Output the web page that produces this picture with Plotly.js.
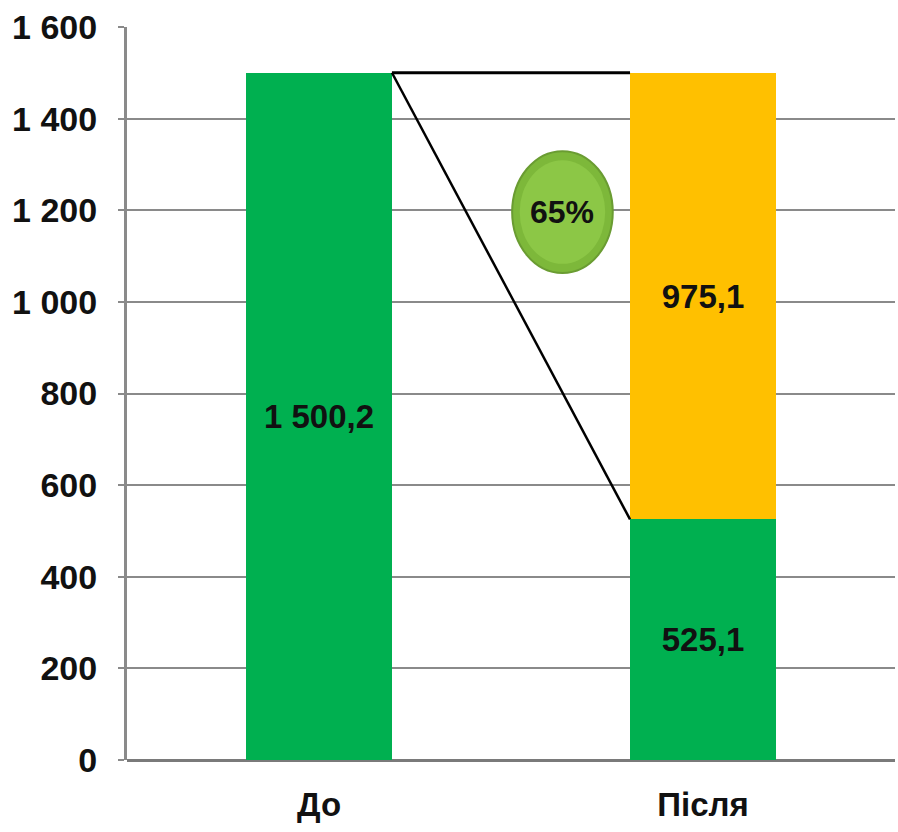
<!DOCTYPE html>
<html>
<head>
<meta charset="utf-8">
<script src="https://cdn.plot.ly/plotly-3.0.1.min.js"></script>
<style>html,body{margin:0;padding:0;background:#fff;}#chart{width:898px;height:832px;}</style>
</head>
<body>
<div id="chart"></div>
<script>
const categories = ['До', 'Після'];
const greenValues = [1500.2, 525.1];
const orangeValues = [0, 975.1];
const greenLabels = ['1 500,2', '525,1'];
const orangeLabels = ['', '975,1'];
const tickVals = [0, 200, 400, 600, 800, 1000, 1200, 1400, 1600];
const tickText = ['0', '200', '400', '600', '800', '1 000', '1 200', '1 400', '1 600'];
const shareLabel = '65%';

const FONT = '"Liberation Sans", Arial, sans-serif';
const bargap = 0.62;
const w = 1 - bargap;
const beforeTop = greenValues[0];
const afterGreen = greenValues[1];
const afterTotal = greenValues[1] + orangeValues[1];

const traces = [
  {
    type: 'bar', x: categories, y: greenValues,
    marker: {color: '#00B050'},
    text: greenLabels, textposition: 'inside', insidetextanchor: 'middle',
    textfont: {family: FONT, size: 33, color: '#111', weight: 'bold'},
    hoverinfo: 'none'
  },
  {
    type: 'bar', x: categories, y: orangeValues,
    marker: {color: '#FFC000'},
    text: orangeLabels, textposition: 'inside', insidetextanchor: 'middle',
    textfont: {family: FONT, size: 33, color: '#111', weight: 'bold'},
    hoverinfo: 'none'
  }
];

const ex = 0.634, ey = 1196, erx = 0.131, ery = 133;
const layout = {
  width: 898, height: 832,
  margin: {l: 127, r: 3, t: 27, b: 72},
  paper_bgcolor: '#fff', plot_bgcolor: '#fff',
  barmode: 'stack', bargap: bargap,
  showlegend: false,
  font: {family: FONT, color: '#111'},
  xaxis: {
    type: 'category', range: [-0.5, 1.5],
    showgrid: false, zeroline: false, showline: false,
    ticks: '', ticklabelstandoff: 22,
    tickfont: {family: FONT, size: 33, color: '#111', weight: 'bold'}
  },
  yaxis: {
    range: [0, 1600], tickvals: tickVals, ticktext: tickText,
    showgrid: true, gridcolor: '#8a8a8a', gridwidth: 2,
    zeroline: true, zerolinecolor: '#7a7a7a', zerolinewidth: 3,
    showline: true, linecolor: '#8a8a8a', linewidth: 3,
    ticks: 'outside', ticklen: 6, tickwidth: 2, tickcolor: '#8a8a8a',
    ticklabelstandoff: 14,
    tickfont: {family: FONT, size: 34, color: '#111', weight: 'bold'}
  },
  shapes: [
    {type: 'line', xref: 'x', yref: 'y', x0: w / 2, y0: beforeTop, x1: 1 - w / 2, y1: afterTotal,
     line: {color: '#000', width: 3}},
    {type: 'line', xref: 'x', yref: 'y', x0: w / 2, y0: beforeTop, x1: 1 - w / 2, y1: afterGreen,
     line: {color: '#000', width: 2.5}},
    {type: 'circle', xref: 'x', yref: 'y', x0: ex - erx, x1: ex + erx, y0: ey - ery, y1: ey + ery,
     fillcolor: '#7db83a', line: {color: '#6a9c32', width: 2}},
    {type: 'circle', xref: 'x', yref: 'y', x0: ex - erx * 0.85, x1: ex + erx * 0.85, y0: ey - ery * 0.85, y1: ey + ery * 0.85,
     fillcolor: '#8cc746', line: {width: 0}}
  ],
  annotations: [
    {xref: 'x', yref: 'y', x: ex, y: ey, text: shareLabel, showarrow: false,
     font: {family: FONT, size: 32, color: '#111', weight: 'bold'}}
  ]
};

Plotly.newPlot('chart', traces, layout, {displayModeBar: false, staticPlot: true});
</script>
</body>
</html>
